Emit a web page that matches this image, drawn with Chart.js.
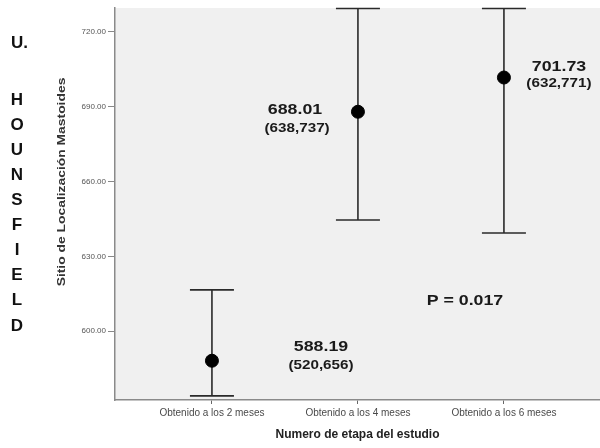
<!DOCTYPE html>
<html><head><meta charset="utf-8">
<script src="https://cdn.jsdelivr.net/npm/chart.js@4"></script>
<style>html,body{margin:0;padding:0;background:#fff}#wrap{width:600px;height:448px}</style>
</head><body><div id="wrap"><canvas id="c" width="600" height="448"></canvas></div>
<script>
const categories = ['Obtenido a los 2 meses', 'Obtenido a los 4 meses', 'Obtenido a los 6 meses'];
const means = [588.19, 688.01, 701.73];
const lowerCI = [574.1, 644.6, 639.4];
const upperCI = [616.6, 729.4, 729.4];
const yTicks = [600, 630, 660, 690, 720];
const annoText = ['688.01', '(638,737)', '701.73', '(632,771)', '588.19', '(520,656)', 'P = 0.017'];
const annoX = [1.569, 1.583, 3.377, 3.377, 1.747, 1.747, 2.733];
const annoY = [688.6, 681.4, 705.9, 699.4, 593.6, 586.4, 612.0];
const sideLetters = ['U.', 'H', 'O', 'U', 'N', 'S', 'F', 'I', 'E', 'L', 'D'];
const yTitle = 'Sitio de Localización Mastoides';
const xTitle = 'Numero de etapa del estudio';

const FONT = '"Liberation Sans", Arial, sans-serif';

function drawText(ctx, text, x, y, font, color, sx, rot, align) {
  ctx.save();
  ctx.translate(x, y);
  if (rot) ctx.rotate(rot);
  ctx.scale(sx || 1, 1);
  ctx.font = font;
  ctx.fillStyle = color;
  ctx.textAlign = align || 'center';
  ctx.textBaseline = 'middle';
  ctx.fillText(text, 0, 0);
  ctx.restore();
}

const deco = {
  id: 'deco',
  beforeDraw(chart) {
    const {ctx, chartArea: a} = chart;
    ctx.save();
    ctx.fillStyle = '#ffffff';
    ctx.fillRect(0, 0, chart.width, chart.height);
    ctx.fillStyle = '#f0f0f0';
    ctx.fillRect(a.left, a.top, a.right - a.left, a.bottom - a.top);
    ctx.restore();
    sideLetters.forEach((t, i) => {
      const y = i === 0 ? 43 : 100 + (i - 1) * 25.1;
      if (i === 0) drawText(ctx, t, 11, y, 'bold 17px ' + FONT, '#111', 1, 0, 'left');
      else drawText(ctx, t, 17, y, 'bold 17px ' + FONT, '#111', 1, 0, 'center');
    });
    drawText(ctx, yTitle, 62, 182, 'bold 11px ' + FONT, '#333', 1.26, -Math.PI / 2, 'center');
  },
  beforeDatasetsDraw(chart) {
    const {ctx} = chart;
    const xs = chart.scales.x, ys = chart.scales.y;
    ctx.save();
    ctx.strokeStyle = '#2a2a2a';
    ctx.lineWidth = 1.6;
    means.forEach((m, i) => {
      const x = xs.getPixelForValue(i + 1);
      const yl = ys.getPixelForValue(lowerCI[i]);
      const yu = ys.getPixelForValue(upperCI[i]);
      ctx.beginPath();
      ctx.moveTo(x, yl); ctx.lineTo(x, yu);
      ctx.moveTo(x - 22, yl); ctx.lineTo(x + 22, yl);
      ctx.moveTo(x - 22, yu); ctx.lineTo(x + 22, yu);
      ctx.stroke();
    });
    ctx.restore();
  },
  afterDatasetsDraw(chart) {
    const {ctx} = chart;
    const xs = chart.scales.x, ys = chart.scales.y;
    annoText.forEach((t, i) => {
      const x = xs.getPixelForValue(annoX[i]);
      const y = ys.getPixelForValue(annoY[i]);
      const small = t.startsWith('(');
      drawText(ctx, t, x, y, 'bold ' + (small ? 12 : 14) + 'px ' + FONT, '#1a1a1a', 1.27, 0, 'center');
    });
  }
};

new Chart(document.getElementById('c'), {
  type: 'scatter',
  data: {
    datasets: [{
      data: means.map((m, i) => ({x: i + 1, y: m})),
      backgroundColor: '#000',
      borderColor: '#000',
      pointRadius: 6.5,
      pointHoverRadius: 6.5
    }]
  },
  options: {
    responsive: false,
    animation: false,
    events: [],
    layout: {autoPadding: false, padding: {top: 8, right: 0, left: 0, bottom: 0}},
    plugins: {legend: {display: false}, tooltip: {enabled: false}},
    scales: {
      x: {
        type: 'linear',
        min: 0.336, max: 3.658,
        afterFit(s) { s.height = 48; s.paddingLeft = 0; s.paddingRight = 0; },
        afterBuildTicks(s) { s.ticks = categories.map((c, i) => ({value: i + 1})); },
        grid: {display: true, drawOnChartArea: false, tickLength: 4, color: '#666', lineWidth: 1},
        border: {display: true, color: '#8a8a8a', width: 1.5},
        ticks: {
          autoSkip: false, maxRotation: 0, padding: 3,
          color: '#4a4a4a', font: {family: FONT, size: 10},
          callback: v => categories[v - 1]
        },
        title: {display: true, text: xTitle, color: '#222', font: {family: FONT, size: 12, weight: 'bold'}, padding: {top: 0, bottom: 6}}
      },
      y: {
        min: 572.45, max: 729.6,
        afterFit(s) { s.width = 115; s.paddingTop = 0; s.paddingBottom = 0; },
        afterBuildTicks(s) { s.ticks = yTicks.map(v => ({value: v})); },
        grid: {display: true, drawOnChartArea: false, tickLength: 7, color: '#888', lineWidth: 1},
        border: {display: true, color: '#8a8a8a', width: 1.5},
        ticks: {
          padding: 2, color: '#555', font: {family: FONT, size: 8},
          callback: v => Number(v).toFixed(2)
        }
      }
    }
  },
  plugins: [deco]
});
</script></body></html>
